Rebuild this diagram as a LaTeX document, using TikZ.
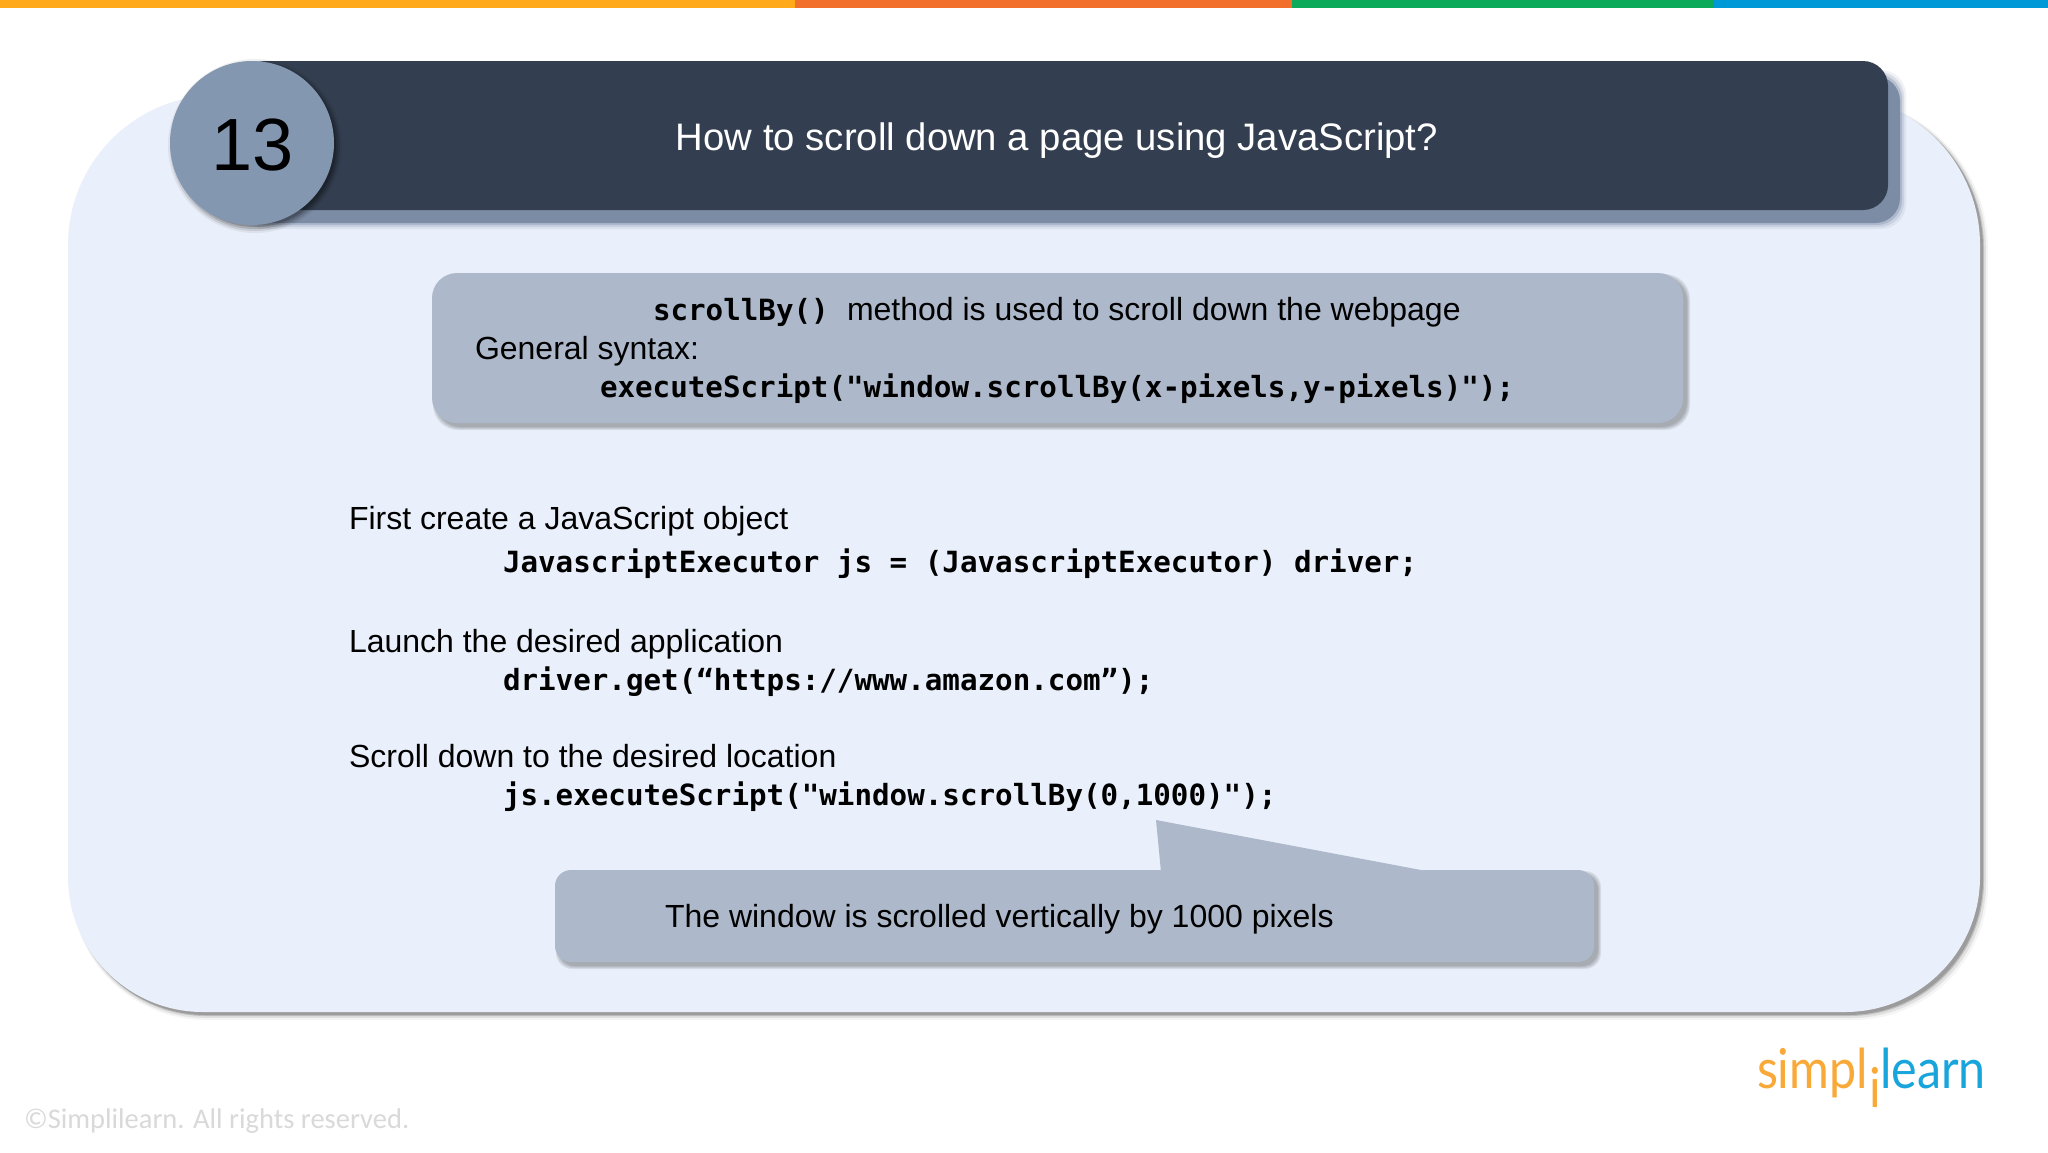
\documentclass[tikz,border=0pt]{standalone}
\usepackage{fontspec}
\setmainfont{Liberation Sans}
\newfontfamily\codefont{DejaVu Sans Mono}[Scale=1.0]
\newfontfamily\logofont{Lato}
\newfontfamily\notefont{Carlito}
\definecolor{panelfill}{HTML}{EAF0FB}
\definecolor{headfill}{HTML}{333F50}
\definecolor{headshade}{HTML}{7C8CA5}
\definecolor{discfill}{HTML}{8497B0}
\definecolor{boxfill}{HTML}{ADB9CA}
\definecolor{logoorange}{HTML}{F9A937}
\definecolor{logoblue}{HTML}{17A5DC}
\tikzset{
  label/.style={anchor=base west,inner sep=0pt,outer sep=0pt,text=black},
  bodytext/.style={label,font=\fontsize{32}{32}\selectfont},
  codetext/.style={label,font=\codefont\bfseries\fontsize{29.2}{29.2}\selectfont},
  logotext/.style={label,xscale=0.88,transform shape,font=\logofont\fontsize{55}{55}\selectfont},
  softlayer/.style={fill=black,opacity=0.08,draw=none},
}
\newcommand{\softbox}[6]{% x1 y1 x2 y2 radius offset
  \foreach \g in {3,2,1,0}{
    \fill[softlayer,rounded corners=#5 pt] ({#1+#6-\g},{#2+#6-\g}) rectangle ({#3+#6+\g},{#4+#6+\g});
  }
}
\begin{document}
\begin{tikzpicture}[x=1pt,y=-1pt]
\useasboundingbox (0,0) rectangle (2048,1152);
\fill[white] (0,0) rectangle (2048,1152);
% top colour bar
\fill[fill={rgb,255:red,255;green,169;blue,27}] (0,0) rectangle (795,8);
\fill[fill={rgb,255:red,242;green,111;blue,43}] (795,0) rectangle (1292,8);
\fill[fill={rgb,255:red,11;green,170;blue,91}] (1292,0) rectangle (1713,8);
\fill[fill={rgb,255:red,0;green,153;blue,216}] (1713,0) rectangle (2048,8);
% panel shadow
\foreach \g/\o in {5/0.04,3/0.08,1/0.15,0/0.18}{
  \fill[black,opacity=\o,shift={(3,3)}] (68,500) [rounded corners=150pt] -- (68,95) -- (1980+\g,95) -- (1980+\g,500) [rounded corners=135pt] -- (1980+\g,1012+\g) -- (68,1012+\g) -- cycle;
}
% panel
\fill[panelfill] (68,500) [rounded corners=150pt] -- (68,95) -- (1980,95) -- (1980,500) [rounded corners=135pt] -- (1980,1012) -- (68,1012) -- cycle;
% header
\foreach \g/\o in {6/0.12,4/0.2,2/0.35,0/1}{
  \fill[headshade,opacity=\o,rounded corners=25pt] (240,{76-\g}) rectangle ({1900+\g},{223+\g});
}
\fill[headfill,rounded corners=25pt] (240,61) rectangle (1888,210);
% number disc
\foreach \g/\o in {7/0.06,5/0.1,3/0.14,1/0.18}{
  \fill[black,opacity=\o] (255,146) circle ({82+\g-2});
}
\fill[discfill] (252,143) circle (82);
\node[anchor=center,inner sep=0pt,font=\fontsize{74}{74}\selectfont,text=black] (num) at (253,145) {13};
\node[anchor=center,inner sep=0pt,text=white,font=\fontsize{38.3}{38.3}\selectfont] (title) at (1057,141) {How to scroll down a page using JavaScript?};
% definition box
\softbox{432}{273}{1683}{423}{25}{4}
\fill[boxfill,rounded corners=25pt] (432,273) rectangle (1683,423);
\node[codetext] (sb) at (653,320) {scrollBy()};
\node[bodytext] (sbtext) at (847,320) {method is used to scroll down the webpage};
\node[bodytext] (gen) at (475,359) {General syntax:};
\node[codetext] (exec) at (600,397) {executeScript("window.scrollBy(x-pixels,y-pixels)");};
% steps
\node[bodytext] (s1) at (349,529) {First create a JavaScript object};
\node[codetext] (c1) at (503,572) {JavascriptExecutor js = (JavascriptExecutor) driver;};
\node[bodytext] (s2) at (349,652) {Launch the desired application};
\node[codetext] (c2) at (503,690) {driver.get(“https://www.amazon.com”);};
\node[bodytext] (s3) at (349,767) {Scroll down to the desired location};
\node[codetext] (c3) at (503,805) {js.executeScript("window.scrollBy(0,1000)");};
% callout
\softbox{555}{870}{1594}{962}{16}{4}
\fill[boxfill,rounded corners=16pt] (555,870) rectangle (1594,962);
\fill[boxfill] (1161,872) -- (1156,820) -- (1421,870) -- (1421,872) -- cycle;
\node[bodytext] (note) at (665,927) {The window is scrolled vertically by 1000 pixels};
% logo
\node[logotext,text=logoorange] (lg1) at (1757,1088) {simpl};
\node[logotext,text=logoorange] (lg2) at (1869,1107) {i};
\node[logotext,text=logoblue] (lg3) at (1880,1088) {learn};
% copyright
\node[label,text=black!15,font=\notefont\fontsize{28.5}{28.5}\selectfont] (copy) at (24,1128) {©Simplilearn. All rights reserved.};
\end{tikzpicture}
\end{document}
